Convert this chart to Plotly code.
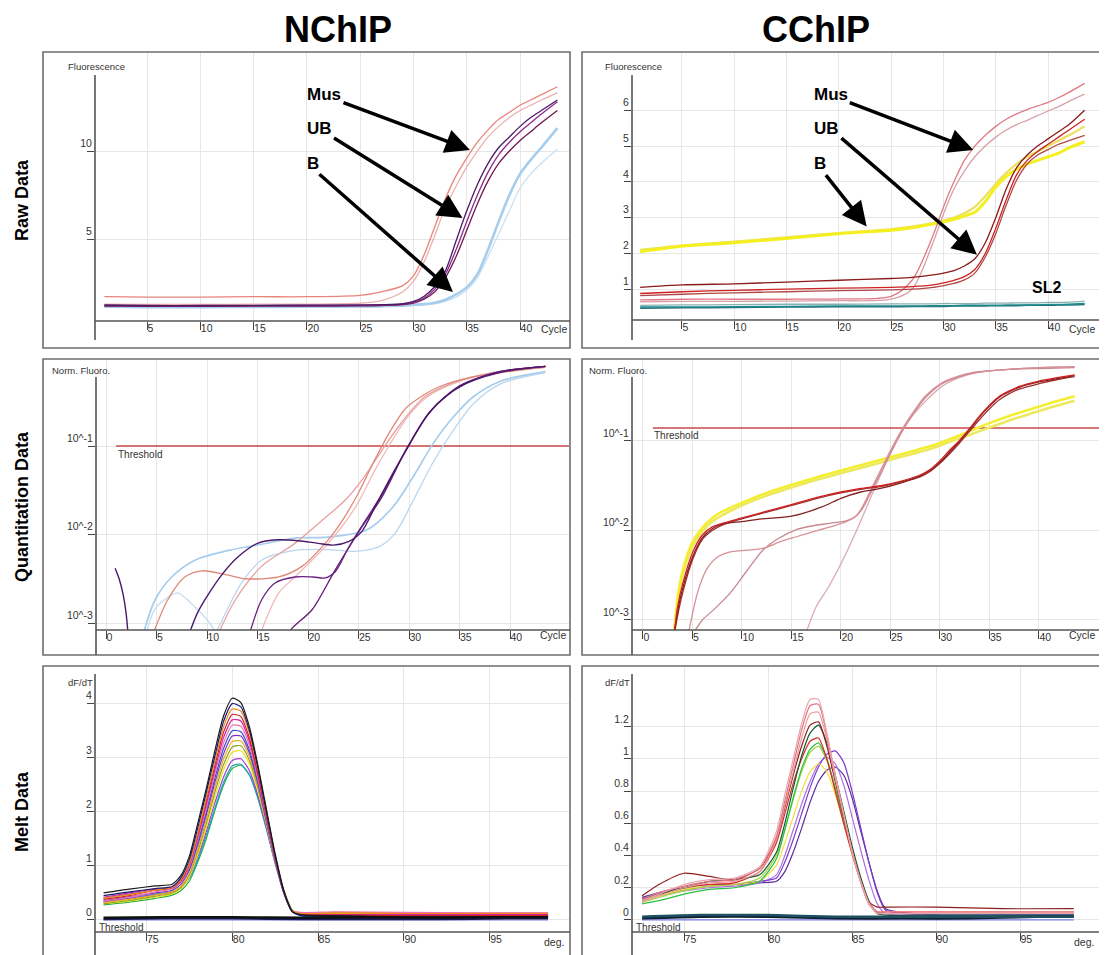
import plotly.graph_objects as go

W, H = 1107, 955
OFF = 8  # page body margin of the browser

# ===================== DATA =====================
# ---- Raw data (fluorescence per cycle) ----
raw_cycles = [1, 5, 10, 15, 20, 25, 27, 29, 30, 31, 32, 33, 34, 35, 36, 37, 38, 39, 40, 41, 42, 43.5]

n_raw_mus1 = [1.72, 1.70, 1.70, 1.72, 1.72, 1.80, 2.00, 2.35, 2.90, 4.10, 5.70, 7.30, 8.60, 9.60, 10.50, 11.20, 11.80, 12.20, 12.60, 12.90, 13.20, 13.65]
n_raw_mus2 = [1.30, 1.28, 1.28, 1.30, 1.30, 1.35, 1.50, 2.00, 2.60, 3.70, 5.20, 6.80, 8.00, 9.10, 10.00, 10.80, 11.40, 11.90, 12.30, 12.60, 12.90, 13.30]
n_raw_ub1 = [1.25, 1.22, 1.22, 1.23, 1.24, 1.25, 1.27, 1.32, 1.45, 1.75, 2.30, 3.20, 4.90, 6.60, 8.10, 9.30, 10.20, 10.80, 11.40, 11.90, 12.30, 12.90]
n_raw_ub2 = [1.22, 1.20, 1.20, 1.21, 1.22, 1.23, 1.25, 1.30, 1.40, 1.65, 2.15, 3.00, 4.40, 6.00, 7.50, 8.80, 9.80, 10.50, 11.10, 11.60, 12.10, 12.80]
n_raw_ub3 = [1.18, 1.17, 1.17, 1.18, 1.19, 1.20, 1.22, 1.27, 1.36, 1.58, 2.00, 2.80, 4.00, 5.50, 7.00, 8.30, 9.30, 10.00, 10.60, 11.10, 11.60, 12.30]
n_raw_b1 = [1.15, 1.13, 1.13, 1.14, 1.15, 1.16, 1.18, 1.22, 1.26, 1.30, 1.38, 1.55, 1.85, 2.25, 3.00, 4.40, 6.00, 7.50, 8.70, 9.50, 10.20, 11.30]
n_raw_b2 = [1.12, 1.11, 1.11, 1.12, 1.13, 1.14, 1.16, 1.19, 1.22, 1.26, 1.32, 1.45, 1.70, 2.10, 2.80, 4.00, 5.30, 6.60, 7.90, 8.70, 9.30, 10.10]

c_raw_b1 = [2.05, 2.20, 2.30, 2.42, 2.55, 2.65, 2.72, 2.82, 2.88, 2.95, 3.05, 3.15, 3.45, 3.85, 4.15, 4.35, 4.50, 4.60, 4.70, 4.80, 4.95, 5.12]
c_raw_b2 = [2.10, 2.22, 2.33, 2.45, 2.57, 2.68, 2.75, 2.85, 2.92, 3.00, 3.12, 3.30, 3.60, 3.95, 4.25, 4.50, 4.70, 4.85, 5.00, 5.15, 5.30, 5.55]
c_raw_mus1 = [0.70, 0.72, 0.72, 0.72, 0.73, 0.80, 1.25, 2.50, 3.30, 4.00, 4.60, 5.00, 5.30, 5.55, 5.75, 5.90, 6.02, 6.12, 6.22, 6.35, 6.50, 6.75]
c_raw_mus2 = [0.65, 0.66, 0.66, 0.67, 0.68, 0.72, 1.00, 2.30, 3.10, 3.80, 4.30, 4.70, 5.00, 5.25, 5.45, 5.60, 5.72, 5.85, 5.98, 6.10, 6.25, 6.45]
c_raw_ub1 = [1.05, 1.12, 1.15, 1.20, 1.25, 1.30, 1.33, 1.40, 1.45, 1.52, 1.65, 1.85, 2.30, 3.00, 3.80, 4.40, 4.75, 5.00, 5.20, 5.40, 5.60, 6.00]
c_raw_ub2 = [0.88, 0.93, 0.97, 1.00, 1.03, 1.05, 1.07, 1.12, 1.18, 1.25, 1.35, 1.55, 2.00, 2.70, 3.50, 4.20, 4.60, 4.85, 5.05, 5.25, 5.45, 5.75]
c_raw_ub3 = [0.82, 0.86, 0.90, 0.93, 0.96, 0.98, 1.00, 1.05, 1.10, 1.16, 1.26, 1.45, 1.90, 2.55, 3.35, 4.05, 4.50, 4.75, 4.90, 5.05, 5.15, 5.30]
c_raw_sl2a = [0.50, 0.50, 0.51, 0.52, 0.53, 0.53, 0.53, 0.54, 0.54, 0.54, 0.55, 0.55, 0.55, 0.55, 0.56, 0.56, 0.56, 0.56, 0.57, 0.57, 0.58, 0.60]
c_raw_sl2b = [0.47, 0.48, 0.49, 0.50, 0.51, 0.51, 0.52, 0.52, 0.52, 0.53, 0.53, 0.53, 0.53, 0.54, 0.54, 0.54, 0.55, 0.55, 0.55, 0.56, 0.56, 0.57]
c_raw_sl2c = [0.55, 0.56, 0.57, 0.58, 0.58, 0.59, 0.59, 0.59, 0.60, 0.60, 0.60, 0.60, 0.61, 0.61, 0.61, 0.62, 0.62, 0.62, 0.63, 0.63, 0.64, 0.67]

# ---- Quantitation data (log10 of normalised fluorescence per cycle) ----
n_q_ub0_x = [0.9, 1.3, 1.7, 2.0, 2.3]
n_q_ub0_y = [-2.38, -2.50, -2.68, -2.90, -3.30]
n_q_uba_x = [8.0, 9.0, 10.0, 11.5, 13.0, 15.0, 17.0, 19.0, 21.0, 22.5, 24.0, 25.3, 26.8, 28.4, 30.1, 31.7, 33.4, 35.7, 39.0, 43.5]
n_q_uba_y = [-3.20, -2.90, -2.70, -2.45, -2.26, -2.10, -2.06, -2.07, -2.10, -2.12, -2.08, -1.97, -1.65, -1.31, -0.97, -0.67, -0.46, -0.29, -0.16, -0.10]
n_q_ubb_x = [14.0, 15.4, 16.7, 18.7, 20.5, 21.7, 22.7, 24.0, 25.3, 27.3, 29.7, 32.0, 35.0, 39.0, 43.5]
n_q_ubb_y = [-3.20, -2.74, -2.55, -2.48, -2.48, -2.49, -2.42, -2.15, -1.91, -1.55, -1.05, -0.62, -0.33, -0.17, -0.10]
n_q_ubc_x = [17.5, 18.5, 20.4, 22.7, 25.3, 27.3, 29.9, 32.2, 35.0, 39.0, 43.5]
n_q_ubc_y = [-3.20, -3.05, -2.85, -2.40, -1.92, -1.58, -1.00, -0.60, -0.32, -0.16, -0.10]
n_q_ba_x = [3.5, 4.85, 6.5, 8.8, 12.1, 15.4, 18.7, 22.0, 25.8, 28.4, 30.4, 32.4, 34.4, 36.4, 39.0, 43.5]
n_q_ba_y = [-3.20, -2.74, -2.48, -2.29, -2.18, -2.11, -2.04, -2.03, -1.95, -1.69, -1.35, -0.97, -0.67, -0.44, -0.27, -0.16]
n_q_bb_x = [3.8, 4.8, 6.0, 7.1, 8.8, 10.5, 11.0]
n_q_bb_y = [-3.20, -2.85, -2.72, -2.66, -2.82, -3.04, -3.20]
n_q_bc_x = [10.5, 12.0, 13.4, 15.4, 18.7, 22.0, 24.7, 27.0, 28.6, 30.4, 32.4, 34.4, 36.4, 39.0, 43.5]
n_q_bc_y = [-3.20, -2.85, -2.55, -2.29, -2.18, -2.17, -2.19, -2.14, -1.99, -1.62, -1.18, -0.82, -0.52, -0.30, -0.17]
n_q_musa_x = [4.4, 6.1, 7.8, 9.5, 12.1, 13.8, 17.1, 19.4, 22.0, 23.3, 24.9, 26.5, 28.1, 29.7, 31.5, 33.0, 36.3, 39.7, 43.5]
n_q_musa_y = [-3.20, -2.74, -2.48, -2.41, -2.46, -2.50, -2.48, -2.36, -2.06, -1.86, -1.55, -1.18, -0.84, -0.57, -0.42, -0.33, -0.22, -0.16, -0.11]
n_q_musb_x = [10.8, 12.8, 15.4, 18.7, 21.4, 23.7, 25.5, 27.6, 29.5, 31.5, 34.0, 37.0, 40.0, 43.5]
n_q_musb_y = [-3.20, -2.74, -2.36, -2.10, -1.84, -1.61, -1.36, -1.00, -0.70, -0.45, -0.30, -0.20, -0.14, -0.10]
n_q_musc_x = [15.0, 17.1, 18.7, 22.0, 24.7, 26.5, 28.0, 30.0, 32.0, 35.0, 39.0, 43.5]
n_q_musc_y = [-3.20, -2.66, -2.48, -2.10, -1.69, -1.30, -1.00, -0.65, -0.43, -0.27, -0.16, -0.10]
n_threshold = -1.0

c_q_b_x = [3.1, 3.5, 4, 5, 6, 7, 8, 10, 12, 15, 18, 20, 23, 25, 27, 29, 31, 33, 35, 37, 39, 41, 43.6]
c_q_b1_y = [-3.20, -2.75, -2.45, -2.13, -1.97, -1.86, -1.79, -1.69, -1.60, -1.49, -1.39, -1.33, -1.24, -1.18, -1.12, -1.06, -0.98, -0.89, -0.80, -0.72, -0.65, -0.58, -0.50]
c_q_b2_y = [-3.20, -2.80, -2.50, -2.18, -2.01, -1.90, -1.83, -1.72, -1.63, -1.52, -1.42, -1.36, -1.27, -1.21, -1.15, -1.09, -1.01, -0.93, -0.85, -0.77, -0.70, -0.63, -0.55]
c_q_ub_x = [3.1, 3.5, 4, 5, 6, 7, 8, 10, 12, 15, 18, 20, 22, 24, 26, 28, 29, 30, 31, 32, 33, 34, 35, 36, 37, 38, 40, 42, 43.6]
c_q_ub1_y = [-3.20, -2.85, -2.60, -2.25, -2.05, -1.96, -1.92, -1.86, -1.80, -1.71, -1.62, -1.57, -1.53, -1.50, -1.45, -1.38, -1.32, -1.22, -1.10, -0.99, -0.86, -0.72, -0.60, -0.50, -0.44, -0.39, -0.33, -0.29, -0.26]
c_q_ub2_y = [-3.20, -2.90, -2.65, -2.30, -2.08, -1.98, -1.93, -1.90, -1.87, -1.84, -1.74, -1.64, -1.57, -1.53, -1.47, -1.39, -1.33, -1.24, -1.12, -1.00, -0.87, -0.73, -0.61, -0.51, -0.45, -0.40, -0.34, -0.30, -0.27]
c_q_ub3_y = [-3.20, -2.95, -2.70, -2.33, -2.10, -2.00, -1.94, -1.87, -1.81, -1.72, -1.63, -1.58, -1.54, -1.51, -1.46, -1.40, -1.34, -1.25, -1.14, -1.02, -0.89, -0.76, -0.64, -0.54, -0.47, -0.42, -0.36, -0.31, -0.28]
c_q_musa_x = [4.5, 5.5, 6.4, 7.5, 8.8, 10.5, 12.1, 14.0, 15.5, 17.0, 18.9, 20.6, 21.5, 22.2, 23.0, 23.9, 24.8, 25.6, 26.5, 27.6, 28.5, 30.2, 32.0, 33.5, 36.9, 40.0, 43.6]
c_q_musa_y = [-3.20, -2.70, -2.44, -2.30, -2.24, -2.22, -2.20, -2.12, -2.07, -2.02, -1.96, -1.90, -1.84, -1.73, -1.55, -1.35, -1.15, -0.98, -0.81, -0.63, -0.50, -0.35, -0.27, -0.23, -0.20, -0.18, -0.17]
c_q_musb_x = [4.8, 6.0, 7.1, 8.8, 10.5, 12.1, 13.5, 15.5, 17.0, 18.9, 20.6, 21.5, 22.2, 23.0, 23.9, 24.8, 25.6, 26.5, 27.6, 28.5, 30.2, 32.0, 33.5, 36.9, 40.0, 43.6]
c_q_musb_y = [-3.20, -3.00, -2.89, -2.70, -2.45, -2.22, -2.10, -1.99, -1.95, -1.92, -1.89, -1.84, -1.75, -1.58, -1.38, -1.18, -1.00, -0.83, -0.65, -0.52, -0.36, -0.28, -0.24, -0.20, -0.19, -0.18]
c_q_musc_x = [16.3, 17.5, 18.7, 20.1, 21.7, 23.4, 25.1, 26.8, 28.5, 30.2, 32.0, 34.0, 37.0, 40.0, 43.6]
c_q_musc_y = [-3.20, -2.85, -2.64, -2.35, -1.97, -1.53, -1.12, -0.78, -0.56, -0.39, -0.29, -0.23, -0.20, -0.18, -0.17]
c_threshold = -0.855

# ---- Melt data (dF/dT per temperature) ----
n_melt_T = [72.5, 74, 75.5, 76.5, 77, 77.5, 78, 78.5, 79, 79.5, 80, 80.5, 81, 81.5, 82, 82.5, 83, 83.5, 84, 86, 90, 94, 98.4]
n_melt = [
    [0.50, 0.57, 0.63, 0.66, 0.82, 1.18, 1.80, 2.45, 3.15, 3.78, 4.10, 4.02, 3.57, 2.85, 2.03, 1.22, 0.55, 0.16, 0.10, 0.08, 0.06, 0.06, 0.06],
    [0.45, 0.52, 0.58, 0.62, 0.78, 1.12, 1.72, 2.38, 3.05, 3.68, 4.00, 3.94, 3.50, 2.80, 1.98, 1.18, 0.52, 0.15, 0.09, 0.07, 0.06, 0.06, 0.06],
    [0.40, 0.47, 0.55, 0.60, 0.74, 1.05, 1.62, 2.28, 2.95, 3.58, 3.90, 3.86, 3.45, 2.78, 1.98, 1.20, 0.55, 0.17, 0.12, 0.13, 0.12, 0.12, 0.12],
    [0.38, 0.45, 0.55, 0.60, 0.74, 1.05, 1.60, 2.22, 2.88, 3.48, 3.80, 3.76, 3.36, 2.70, 1.92, 1.15, 0.52, 0.16, 0.10, 0.09, 0.08, 0.08, 0.08],
    [0.42, 0.50, 0.57, 0.60, 0.72, 1.02, 1.55, 2.15, 2.80, 3.38, 3.70, 3.68, 3.30, 2.66, 1.90, 1.14, 0.52, 0.16, 0.11, 0.10, 0.10, 0.10, 0.10],
    [0.35, 0.42, 0.52, 0.58, 0.70, 0.98, 1.50, 2.08, 2.72, 3.28, 3.60, 3.58, 3.22, 2.60, 1.86, 1.12, 0.52, 0.17, 0.14, 0.15, 0.14, 0.13, 0.13],
    [0.40, 0.48, 0.55, 0.58, 0.70, 0.96, 1.45, 2.02, 2.64, 3.18, 3.50, 3.48, 3.14, 2.54, 1.82, 1.10, 0.50, 0.15, 0.08, 0.07, 0.06, 0.06, 0.06],
    [0.36, 0.43, 0.50, 0.55, 0.66, 0.92, 1.40, 1.96, 2.56, 3.08, 3.40, 3.40, 3.08, 2.52, 1.82, 1.10, 0.52, 0.16, 0.09, 0.08, 0.07, 0.07, 0.07],
    [0.32, 0.38, 0.46, 0.52, 0.62, 0.86, 1.32, 1.86, 2.46, 2.98, 3.30, 3.31, 3.02, 2.48, 1.80, 1.10, 0.52, 0.17, 0.13, 0.14, 0.13, 0.13, 0.13],
    [0.30, 0.36, 0.44, 0.50, 0.60, 0.84, 1.28, 1.80, 2.38, 2.88, 3.20, 3.22, 2.95, 2.44, 1.78, 1.10, 0.53, 0.17, 0.11, 0.11, 0.10, 0.10, 0.10],
    [0.30, 0.35, 0.42, 0.48, 0.58, 0.80, 1.22, 1.72, 2.28, 2.78, 3.10, 3.13, 2.88, 2.38, 1.75, 1.08, 0.52, 0.17, 0.12, 0.12, 0.12, 0.12, 0.12],
    [0.33, 0.40, 0.47, 0.52, 0.60, 0.80, 1.18, 1.65, 2.18, 2.65, 2.95, 2.98, 2.76, 2.30, 1.70, 1.06, 0.52, 0.17, 0.10, 0.09, 0.08, 0.08, 0.08],
    [0.34, 0.40, 0.48, 0.52, 0.60, 0.78, 1.12, 1.58, 2.08, 2.55, 2.85, 2.88, 2.68, 2.24, 1.66, 1.04, 0.50, 0.16, 0.08, 0.07, 0.06, 0.06, 0.06],
    [0.28, 0.33, 0.40, 0.46, 0.54, 0.72, 1.08, 1.52, 2.04, 2.50, 2.80, 2.86, 2.68, 2.26, 1.70, 1.08, 0.54, 0.18, 0.08, 0.07, 0.06, 0.06, 0.06],
]
n_melt_neg_T = [72.5, 76, 80, 84, 88, 92, 96, 98.4]
n_melt_neg = [
    [0.04, 0.05, 0.05, 0.04, 0.05, 0.04, 0.05, 0.05],
    [0.02, 0.03, 0.03, 0.02, 0.02, 0.02, 0.03, 0.03],
]

c_melt_T = [72.5, 73.5, 75, 76.5, 78, 79.5, 80.5, 81, 81.5, 82, 82.5, 83, 83.5, 84, 84.5, 85, 85.5, 86, 86.5, 87, 90, 94, 98.2]
c_melt = [
    [0.12, 0.16, 0.22, 0.25, 0.26, 0.33, 0.55, 0.78, 1.00, 1.22, 1.37, 1.37, 1.16, 0.90, 0.66, 0.42, 0.24, 0.10, 0.04, 0.04, 0.04, 0.04, 0.04],
    [0.13, 0.17, 0.21, 0.24, 0.25, 0.32, 0.52, 0.74, 0.96, 1.18, 1.33, 1.34, 1.15, 0.90, 0.66, 0.43, 0.24, 0.10, 0.05, 0.04, 0.04, 0.04, 0.04],
    [0.11, 0.15, 0.20, 0.23, 0.24, 0.30, 0.50, 0.71, 0.92, 1.13, 1.28, 1.29, 1.12, 0.88, 0.65, 0.43, 0.25, 0.11, 0.05, 0.05, 0.05, 0.05, 0.05],
    [0.15, 0.22, 0.29, 0.27, 0.25, 0.32, 0.50, 0.70, 0.90, 1.08, 1.21, 1.23, 1.08, 0.86, 0.64, 0.43, 0.25, 0.11, 0.08, 0.08, 0.08, 0.07, 0.07],
    [0.13, 0.16, 0.20, 0.24, 0.25, 0.28, 0.42, 0.60, 0.82, 1.02, 1.16, 1.21, 1.10, 0.90, 0.68, 0.46, 0.27, 0.12, 0.04, 0.03, 0.03, 0.03, 0.03],
    [0.12, 0.16, 0.20, 0.22, 0.23, 0.30, 0.48, 0.66, 0.85, 1.00, 1.11, 1.13, 1.00, 0.80, 0.60, 0.41, 0.24, 0.10, 0.05, 0.05, 0.05, 0.05, 0.05],
    [0.10, 0.12, 0.16, 0.19, 0.20, 0.24, 0.38, 0.56, 0.76, 0.94, 1.06, 1.10, 1.00, 0.82, 0.62, 0.43, 0.25, 0.11, 0.04, 0.04, 0.04, 0.04, 0.04],
    [0.11, 0.14, 0.18, 0.21, 0.22, 0.26, 0.40, 0.56, 0.75, 0.92, 1.04, 1.08, 0.99, 0.82, 0.62, 0.43, 0.25, 0.11, 0.04, 0.04, 0.04, 0.04, 0.04],
    [0.12, 0.15, 0.19, 0.21, 0.22, 0.24, 0.34, 0.48, 0.64, 0.80, 0.92, 0.97, 0.92, 0.78, 0.60, 0.42, 0.25, 0.11, 0.04, 0.04, 0.04, 0.04, 0.04],
    [0.13, 0.16, 0.19, 0.21, 0.22, 0.24, 0.26, 0.36, 0.50, 0.66, 0.82, 0.95, 1.03, 1.05, 0.98, 0.80, 0.58, 0.36, 0.17, 0.06, 0.03, 0.03, 0.03],
    [0.12, 0.15, 0.18, 0.20, 0.21, 0.23, 0.28, 0.40, 0.56, 0.72, 0.86, 0.97, 1.01, 0.97, 0.84, 0.64, 0.44, 0.25, 0.10, 0.04, 0.03, 0.03, 0.03],
    [0.14, 0.17, 0.20, 0.22, 0.22, 0.23, 0.24, 0.30, 0.42, 0.57, 0.73, 0.86, 0.93, 0.95, 0.90, 0.76, 0.56, 0.36, 0.18, 0.07, 0.03, 0.03, 0.03],
]
c_melt_neg_T = [72.5, 76, 80, 84, 88, 92, 96, 98.2]
c_melt_neg = [
    [0.02, 0.03, 0.03, 0.02, 0.02, 0.02, 0.02, 0.02],
    [0.01, 0.02, 0.02, 0.01, 0.01, 0.01, 0.02, 0.02],
]
melt_threshold = 0.0

# ticks
raw_x_ticks = [5, 10, 15, 20, 25, 30, 35, 40]
n_raw_y_ticks = [5, 10]
c_raw_y_ticks = [1, 2, 3, 4, 5, 6]
q_x_ticks = [0, 5, 10, 15, 20, 25, 30, 35, 40]
q_y_ticks = [-3, -2, -1]
q_y_labels = ["10^-3", "10^-2", "10^-1"]
melt_x_ticks = [75, 80, 85, 90, 95]
n_melt_y_ticks = [0, 1, 2, 3, 4]
c_melt_y_ticks = [0, 0.2, 0.4, 0.6, 0.8, 1, 1.2]
c_melt_y_labels = ["0", "0.2", "0.4", "0.6", "0.8", "1", "1.2"]

# ===================== STYLE / LAYOUT =====================
FONT = "Liberation Sans, Arial, sans-serif"
n_melt_colors = ["#1a1a1a", "#1c1c70", "#f08a20", "#d02424", "#d020a0", "#f070b0", "#3050d0",
                 "#8030c0", "#e0b020", "#90a020", "#f0e020", "#a040d0", "#20a0c0", "#20b040"]
c_melt_colors = ["#eaa6ae", "#e07484", "#f09898", "#8e1c1c", "#0e5a32", "#e02828",
                 "#28c040", "#a8d040", "#f0e040", "#7a3ad0", "#b070e0", "#5a2aa0"]


def PX(x):
    return (x - OFF) / W


def PY(y):
    return 1 - (y - OFF) / H


# panel: box (x0,y0,x1,y1), plot (yaxis_x, top, right, xaxis_y), y-axis line extent (page pixels)
panels = {
    1: dict(box=(43, 52, 570, 348), plot=(95, 53, 569, 321), yl=(75, 340),
            xr=[0.12, 44.59], yr=[0.34, 15.57], xt=raw_x_ticks, yt=n_raw_y_ticks, ytt=None),
    2: dict(box=(582, 52, 1105, 348), plot=(632, 53, 1104, 320), yl=(75, 340),
            xr=[0.22, 45.35], yr=[0.14, 7.60], xt=raw_x_ticks, yt=c_raw_y_ticks, ytt=None),
    3: dict(box=(43, 359, 570, 655), plot=(96, 360, 569, 630), yl=(377, 655),
            xr=[-0.99, 45.84], yr=[-3.079, -0.028], xt=q_x_ticks, yt=q_y_ticks, ytt=q_y_labels),
    4: dict(box=(582, 359, 1105, 655), plot=(632, 360, 1104, 630), yl=(377, 655),
            xr=[-1.11, 46.57], yr=[-3.112, -0.095], xt=q_x_ticks, yt=q_y_ticks, ytt=q_y_labels),
    5: dict(box=(43, 666, 570, 962), plot=(95, 667, 569, 932), yl=(674, 960),
            xr=[72.0, 99.62], yr=[-0.222, 4.677], xt=melt_x_ticks, yt=n_melt_y_ticks, ytt=None),
    6: dict(box=(582, 666, 1105, 962), plot=(632, 667, 1104, 932), yl=(674, 960),
            xr=[71.9, 100.0], yr=[-0.075, 1.571], xt=melt_x_ticks, yt=c_melt_y_ticks, ytt=c_melt_y_labels),
}

fig = go.Figure()


def add_line(i, x, y, color, width=1.3, smooth=0.8):
    fig.add_trace(go.Scatter(
        x=x, y=y, mode="lines", xaxis="x" if i == 1 else f"x{i}", yaxis="y" if i == 1 else f"y{i}",
        line=dict(color=color, width=width, shape="spline", smoothing=smooth),
        hoverinfo="skip", showlegend=False))


# ---- panel 1: NChIP raw ----
add_line(1, raw_cycles, n_raw_b2, "#c8e0f4", 1.3)
add_line(1, raw_cycles, n_raw_b1, "#a6cdec", 2.6)
add_line(1, raw_cycles, n_raw_mus2, "#ebb0b0", 1.3)
add_line(1, raw_cycles, n_raw_mus1, "#e8847a", 1.3)
add_line(1, raw_cycles, n_raw_ub3, "#701850", 1.3)
add_line(1, raw_cycles, n_raw_ub2, "#8a2a8a", 1.3)
add_line(1, raw_cycles, n_raw_ub1, "#4e1a66", 1.3)

# ---- panel 2: CChIP raw ----
add_line(2, raw_cycles, c_raw_sl2c, "#8ab0b0", 1.3)
add_line(2, raw_cycles, c_raw_sl2b, "#2a6a7a", 1.5)
add_line(2, raw_cycles, c_raw_sl2a, "#1a8a8a", 1.5)
add_line(2, raw_cycles, c_raw_b2, "#ece060", 2.2)
add_line(2, raw_cycles, c_raw_b1, "#f4f020", 3.0)
add_line(2, raw_cycles, c_raw_mus2, "#d8a0a8", 1.3)
add_line(2, raw_cycles, c_raw_mus1, "#e07a84", 1.3)
add_line(2, raw_cycles, c_raw_ub3, "#b04848", 1.3)
add_line(2, raw_cycles, c_raw_ub2, "#cc2222", 1.3)
add_line(2, raw_cycles, c_raw_ub1, "#8b1a1a", 1.3)

# ---- panel 3: NChIP quantitation ----
add_line(3, [1, 46], [n_threshold, n_threshold], "#c84848", 1.4, 0)
add_line(3, n_q_bb_x, n_q_bb_y, "#c4dcf0", 1.3)
add_line(3, n_q_bc_x, n_q_bc_y, "#bcd6ee", 1.3)
add_line(3, n_q_ba_x, n_q_ba_y, "#a6cdec", 1.7)
add_line(3, n_q_musc_x, n_q_musc_y, "#f0b8b8", 1.3)
add_line(3, n_q_musb_x, n_q_musb_y, "#e8a0a0", 1.3)
add_line(3, n_q_musa_x, n_q_musa_y, "#e08878", 1.3)
add_line(3, n_q_ubc_x, n_q_ubc_y, "#601a70", 1.3)
add_line(3, n_q_ubb_x, n_q_ubb_y, "#6a2080", 1.3)
add_line(3, n_q_uba_x, n_q_uba_y, "#4a1a6a", 1.4)
add_line(3, n_q_ub0_x, n_q_ub0_y, "#4a1a6a", 1.4)

# ---- panel 4: CChIP quantitation ----
add_line(4, [1, 47], [c_threshold, c_threshold], "#c84848", 1.4, 0)
add_line(4, c_q_b_x, c_q_b2_y, "#ece860", 2.6)
add_line(4, c_q_b_x, c_q_b1_y, "#f4ee30", 2.6)
add_line(4, c_q_musc_x, c_q_musc_y, "#dcaab2", 1.3)
add_line(4, c_q_musb_x, c_q_musb_y, "#c88890", 1.3)
add_line(4, c_q_musa_x, c_q_musa_y, "#d89098", 1.3)
add_line(4, c_q_ub_x, c_q_ub3_y, "#a03030", 1.3)
add_line(4, c_q_ub_x, c_q_ub2_y, "#802020", 1.3)
add_line(4, c_q_ub_x, c_q_ub1_y, "#d02020", 1.3)

# ---- panel 5: NChIP melt ----
add_line(5, [72.5, 98.4], [melt_threshold, melt_threshold], "#7b7bea", 1.2, 0)
for vals, col in zip(n_melt[::-1], n_melt_colors[::-1]):
    add_line(5, n_melt_T, vals, col, 1.2, 0.6)
add_line(5, n_melt_neg_T, n_melt_neg[1], "#1c1c60", 2.5, 0.6)
add_line(5, n_melt_neg_T, n_melt_neg[0], "#101010", 2.5, 0.6)

# ---- panel 6: CChIP melt ----
add_line(6, [72.5, 98.2], [melt_threshold, melt_threshold], "#7b7bea", 1.2, 0)
for vals, col in zip(c_melt[::-1], c_melt_colors[::-1]):
    add_line(6, c_melt_T, vals, col, 1.2, 0.6)
add_line(6, c_melt_neg_T, c_melt_neg[1], "#102030", 2.5, 0.6)
add_line(6, c_melt_neg_T, c_melt_neg[0], "#1e5060", 2.5, 0.6)

# ---- axes ----
layout = dict(width=W, height=H, margin=dict(l=0, r=0, t=0, b=0),
              paper_bgcolor="white", plot_bgcolor="white",
              font=dict(family=FONT, color="#333"), showlegend=False)
shapes = []
for i, p in panels.items():
    bx0, by0, bx1, by1 = p["box"]
    ax0, atop, ax1, abot = p["plot"]
    xname = "xaxis" if i == 1 else f"xaxis{i}"
    yname = "yaxis" if i == 1 else f"yaxis{i}"
    xa = dict(domain=[PX(ax0), PX(ax1)], range=p["xr"], tickvals=p["xt"],
              anchor="y" if i == 1 else f"y{i}",
              showgrid=True, gridcolor="#e6e6e6", gridwidth=1, zeroline=False, showline=False,
              ticks="outside", ticklen=8, tickwidth=1, tickcolor="#444",
              ticklabelposition="outside right", ticklabelstandoff=-3,
              tickfont=dict(size=10.5, color="#333", family=FONT), fixedrange=True)
    ya = dict(domain=[PY(abot), PY(atop)], range=p["yr"], tickvals=p["yt"],
              anchor="x" if i == 1 else f"x{i}",
              showgrid=True, gridcolor="#e6e6e6", gridwidth=1, zeroline=False, showline=False,
              ticks="outside", ticklen=7, tickwidth=1, tickcolor="#444",
              ticklabelposition="outside top", ticklabelstandoff=0,
              tickfont=dict(size=10.5, color="#333", family=FONT), fixedrange=True)
    if p["ytt"] is not None:
        ya["ticktext"] = p["ytt"]
    layout[xname] = xa
    layout[yname] = ya
    shapes.append(dict(type="rect", xref="paper", yref="paper", x0=PX(bx0), x1=PX(bx1),
                       y0=PY(by1), y1=PY(by0), line=dict(color="#6e6e6e", width=1.6),
                       fillcolor="rgba(0,0,0,0)", layer="above"))
    shapes.append(dict(type="line", xref="paper", yref="paper", x0=PX(ax0), x1=PX(ax0),
                       y0=PY(p["yl"][1]), y1=PY(p["yl"][0]), line=dict(color="#555", width=1.6), layer="above"))
    shapes.append(dict(type="line", xref="paper", yref="paper", x0=PX(ax0), x1=PX(bx1),
                       y0=PY(abot), y1=PY(abot), line=dict(color="#555", width=1.6), layer="above"))

layout["shapes"] = shapes

ann = []


def text(x, y, s, size=10, bold=False, anchor="left", angle=0, color="#333"):
    ann.append(dict(x=PX(x), y=PY(y), xref="paper", yref="paper", text=f"<b>{s}</b>" if bold else s,
                    showarrow=False, xanchor=anchor, yanchor="middle", textangle=angle,
                    font=dict(size=size, color=color, family=FONT)))


text(338, 30, "NChIP", 36, True, "center", color="#000")
text(816, 30, "CChIP", 36, True, "center", color="#000")
text(22, 200, "Raw Data", 18, True, "center", -90, "#000")
text(22, 507, "Quantitation Data", 18, True, "center", -90, "#000")
text(22, 812, "Melt Data", 18, True, "center", -90, "#000")

text(66, 67, "Fluorescence", 9.5)
text(603, 67, "Fluorescence", 9.5)
text(50, 370, "Norm. Fluoro.", 9.5)
text(587, 370, "Norm. Fluoro.", 9.5)
text(66, 682, "dF/dT", 9.5)
text(603, 682, "dF/dT", 9.5)
text(539, 329, "Cycle", 10.5)
text(1067, 329, "Cycle", 10.5)
text(538, 635, "Cycle", 10.5)
text(1067, 635, "Cycle", 10.5)
text(542, 942, "deg.", 10.5)
text(1072, 942, "deg.", 10.5)
text(116, 454, "Threshold", 10)
text(652, 435, "Threshold", 10)
text(97, 927, "Threshold", 10)
text(634, 927, "Threshold", 10)

# series labels
text(305, 95, "Mus", 17, True, color="#000")
text(305, 129, "UB", 17, True, color="#000")
text(305, 163, "B", 17, True, color="#000")
text(812, 95, "Mus", 17, True, color="#000")
text(812, 129, "UB", 17, True, color="#000")
text(812, 163, "B", 17, True, color="#000")
text(1046, 287, "SL2", 16, True, "center", color="#000")


def arrow(i, x, y, ax, ay):
    ann.append(dict(x=x, y=y, xref="x" if i == 1 else f"x{i}", yref="y" if i == 1 else f"y{i}",
                    ax=ax, ay=ay, text="", showarrow=True, arrowhead=2, arrowsize=1.4,
                    arrowwidth=3.5, arrowcolor="#000", standoff=0))


arrow(1, 35.3, 10.06, -128, -48)
arrow(1, 34.6, 6.19, -130, -81)
arrow(1, 33.7, 1.99, -135, -119)
arrow(2, 32.85, 4.89, -125, -48)
arrow(2, 33.2, 1.96, -137, -118)
arrow(2, 22.66, 2.75, -42, -53)

layout["annotations"] = ann
fig.update_layout(**layout)
fig.write_html("out.html")
